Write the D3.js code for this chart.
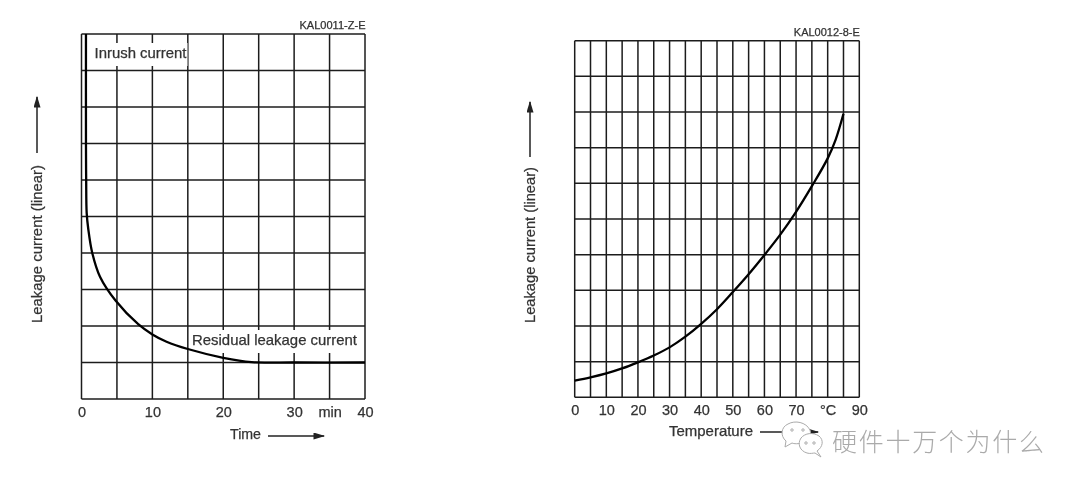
<!DOCTYPE html>
<html lang="en">

<head>
    <title>Leakage current charts</title>
    <meta charset="UTF-8">
    <script src="https://d3js.org/d3.v7.min.js"></script>
    <style>
        html, body { margin: 0; padding: 0; background: #fff; overflow: hidden; }
        svg { display: block; filter: blur(0.5px); }
        text { font-family: "Liberation Sans", Arial, sans-serif; fill: #333; stroke: #333; stroke-width: 0.25; }
        .grid line { stroke: #1c1c1c; stroke-width: 1.5; }
        .axis path, .axis line { display: none; }
        .curve { fill: none; stroke: #000; stroke-width: 2.3; }
    </style>
</head>

<body>
<div id="div-grafico"></div>
<script>
    // left chart: leakage current over time
    var timeGrid = [0, 5, 10, 15, 20, 25, 30, 35, 40];
    var timeTicks = [0, 10, 20, 30, 35, 40];
    var timeTickLabels = ["0", "10", "20", "30", "min", "40"];
    var timeX = [0.63, 0.63, 0.66, 0.73, 0.96, 1.52, 2.61, 4.83, 8, 10, 12, 15, 20, 24, 30, 40];
    var timeY = [10, 7, 6, 5.1, 4.65, 4.0, 3.35, 2.69, 2.05, 1.77, 1.57, 1.37, 1.13, 1.01, 1, 1];

    // right chart: leakage current over temperature
    var tempGrid = [0, 5, 10, 15, 20, 25, 30, 35, 40, 45, 50, 55, 60, 65, 70, 75, 80, 85, 90];
    var tempTicks = [0, 10, 20, 30, 40, 50, 60, 70, 80, 90];
    var tempTickLabels = ["0", "10", "20", "30", "40", "50", "60", "70", "°C", "90"];
    var tempX = [0, 5, 10, 15, 20, 25, 30, 35, 40, 45, 50, 55, 60, 65, 70, 75, 80, 82.5, 85];
    var tempY = [0.47, 0.56, 0.67, 0.81, 0.98, 1.17, 1.4, 1.7, 2.06, 2.47, 2.95, 3.45, 3.99, 4.56, 5.2, 5.92, 6.7, 7.22, 7.95];

    // the y axis is linear with no numbers, 10 divisions
    var levelGrid = [0, 1, 2, 3, 4, 5, 6, 7, 8, 9, 10];

    var svg = d3.select("#div-grafico").append("svg")
        .attr("width", 1080)
        .attr("height", 489);

    // marker for the small axis arrows
    svg.append("defs").append("marker")
        .attr("id", "arrow")
        .attr("viewBox", "0 0 10 6")
        .attr("refX", 9)
        .attr("refY", 3)
        .attr("markerUnits", "userSpaceOnUse")
        .attr("markerWidth", 14)
        .attr("markerHeight", 7)
        .attr("orient", "auto")
        .append("path")
        .attr("d", "M0,0L10,3L0,6Z")
        .attr("fill", "#222");

    function drawChart(c) {
        var x = d3.scaleLinear().domain(c.domain).range([c.left, c.right]);
        var y = d3.scaleLinear().domain([0, 10]).range([c.bottom, c.top]);

        var g = svg.append("g");

        // grid
        var grid = g.append("g").attr("class", "grid");
        grid.selectAll(".v").data(c.grid).enter().append("line")
            .attr("class", "v")
            .attr("x1", function (d) { return x(d); })
            .attr("x2", function (d) { return x(d); })
            .attr("y1", c.top)
            .attr("y2", c.bottom);
        grid.selectAll(".h").data(levelGrid).enter().append("line")
            .attr("class", "h")
            .attr("x1", c.left)
            .attr("x2", c.right)
            .attr("y1", function (d) { return y(d); })
            .attr("y2", function (d) { return y(d); });

        // labels inside the plot sit on a white box that cuts the grid
        c.notes.forEach(function (n) {
            g.append("rect")
                .attr("x", n.x - 1)
                .attr("y", n.y - 15)
                .attr("width", n.w + 2)
                .attr("height", 23)
                .attr("fill", "#fff");
        });

        // curve
        var line = d3.line()
            .x(function (d, i) { return x(c.xs[i]); })
            .y(function (d) { return y(d); })
            .curve(d3.curveCatmullRom.alpha(0.5));
        g.append("path")
            .datum(c.ys)
            .attr("class", "curve")
            .attr("d", line);

        c.notes.forEach(function (n) {
            g.append("text")
                .attr("x", n.x)
                .attr("y", n.y)
                .attr("font-size", 14.5)
                .attr("textLength", n.w)
                .attr("lengthAdjust", "spacingAndGlyphs")
                .text(n.label);
        });

        // x axis numbers
        var axis = g.append("g")
            .attr("class", "axis")
            .attr("transform", "translate(0," + c.bottom + ")")
            .call(d3.axisBottom(x)
                .tickValues(c.ticks)
                .tickSize(0)
                .tickPadding(c.tickPad)
                .tickFormat(function (d, i) { return c.tickLabels[i]; }));
        axis.selectAll("text")
            .style("font-family", '"Liberation Sans", Arial, sans-serif')
            .style("font-size", "14.5px")
            .style("fill", "#333");

        // drawing code in the corner
        g.append("text")
            .attr("x", c.right - 65.5)
            .attr("y", c.top - 5)
            .attr("font-size", 10)
            .attr("textLength", 66)
            .attr("lengthAdjust", "spacingAndGlyphs")
            .text(c.code);

        // y title and arrow
        g.append("text")
            .attr("transform", "translate(" + c.yTitleX + ",323) rotate(-90)")
            .attr("font-size", 14.5)
            .attr("textLength", c.yTitleLen)
            .attr("lengthAdjust", "spacingAndGlyphs")
            .text("Leakage current (linear)");
        g.append("line")
            .attr("x1", c.yArrow[0]).attr("x2", c.yArrow[0])
            .attr("y1", c.yArrow[1]).attr("y2", c.yArrow[2])
            .attr("stroke", "#222").attr("stroke-width", 1.5)
            .attr("marker-end", "url(#arrow)");

        // x title and arrow
        g.append("text")
            .attr("x", c.xTitle[0])
            .attr("y", c.xTitle[1])
            .attr("font-size", 14.5)
            .attr("textLength", c.xTitle[2])
            .attr("lengthAdjust", "spacingAndGlyphs")
            .text(c.xLabel);
        g.append("line")
            .attr("x1", c.xArrow[0]).attr("x2", c.xArrow[1])
            .attr("y1", c.xArrow[2]).attr("y2", c.xArrow[2])
            .attr("stroke", "#222").attr("stroke-width", 1.5)
            .attr("marker-end", "url(#arrow)");
    }

    drawChart({
        domain: [0, 40], left: 81.5, right: 365, top: 34, bottom: 399,
        grid: timeGrid, ticks: timeTicks, tickLabels: timeTickLabels, tickPad: 8,
        xs: timeX, ys: timeY, code: "KAL0011-Z-E",
        notes: [
            {label: "Inrush current", x: 94.5, y: 58, w: 92},
            {label: "Residual leakage current", x: 192, y: 345, w: 165}
        ],
        yTitleX: 42, yTitleLen: 158, yArrow: [37, 153, 97],
        xLabel: "Time", xTitle: [230, 439, 31], xArrow: [268, 324, 436]
    });

    drawChart({
        domain: [0, 90], left: 574.7, right: 859.3, top: 40.7, bottom: 397.3,
        grid: tempGrid, ticks: tempTicks, tickLabels: tempTickLabels, tickPad: 7,
        xs: tempX, ys: tempY, code: "KAL0012-8-E",
        notes: [],
        yTitleX: 535, yTitleLen: 156, yArrow: [530, 157, 102],
        xLabel: "Temperature", xTitle: [669, 436, 84], xArrow: [760, 818, 432]
    });

    // watermark, sits on top of the arrow
    var mark = svg.append("g").attr("fill", "#fff").attr("stroke", "#aaa").attr("stroke-width", 1);
    mark.append("path")
        .attr("d", "M786,441 C780,436 781,427 788,424 C795,420 806,422 810,430 C812,436 808,441 802,443 C798,444 794,444 792,443 L785,447 Z");
    mark.append("path")
        .attr("d", "M817,451 C823,447 824,440 819,436 C813,432 805,433 801,438 C797,444 800,451 807,453 C810,454 813,453 815,453 L821,457 Z");
    mark.selectAll(".eye")
        .data([[792, 430], [803, 430], [806, 443], [814, 443]])
        .enter().append("circle")
        .attr("class", "eye")
        .attr("cx", function (d) { return d[0]; })
        .attr("cy", function (d) { return d[1]; })
        .attr("r", 1.2);
    svg.append("text")
        .attr("x", 832)
        .attr("y", 451)
        .attr("font-size", 25)
        .attr("textLength", 212)
        .style("font-family", '"Noto Sans CJK SC"')
        .style("font-weight", 300)
        .style("fill", "#aaa")
        .style("stroke", "none")
        .text("硬件十万个为什么");
</script>
</body>

</html>
